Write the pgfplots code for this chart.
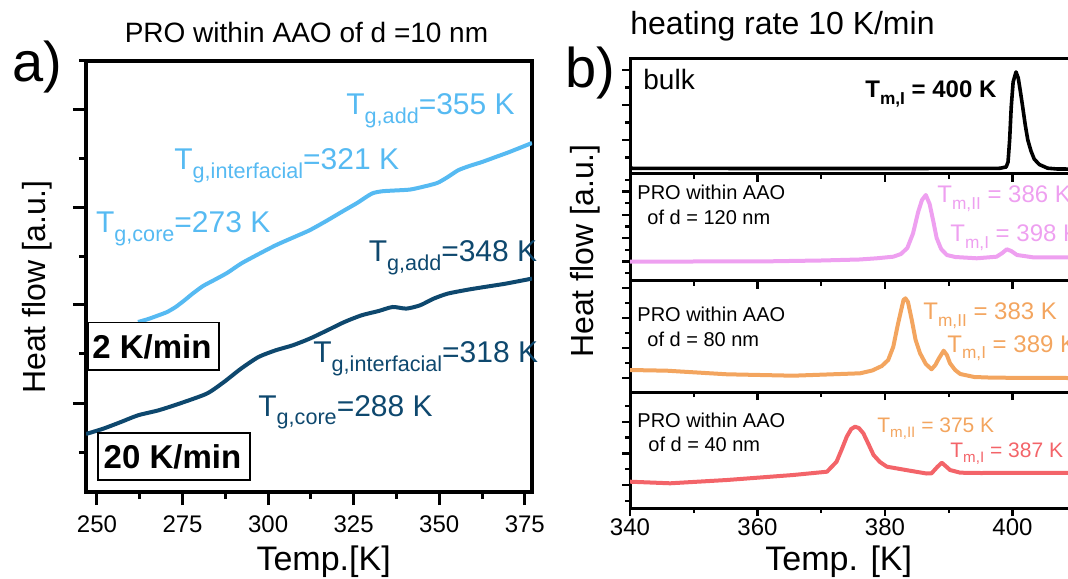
\documentclass[border=0pt]{standalone}
\usepackage{pgfplots}
\pgfplotsset{compat=1.18}
\usepackage{graphicx}
\usepackage{fontspec}
\setmainfont{Liberation Sans}
\definecolor{lblue}{RGB}{86,186,242}
\definecolor{dblue}{RGB}{14,72,110}
\definecolor{pinkv}{RGB}{238,160,240}
\definecolor{orng}{RGB}{243,165,95}
\definecolor{redc}{RGB}{243,100,105}
\newcommand{\fs}[1]{\fontsize{#1}{#1}\selectfont}
\newcommand{\sub}[1]{\raisebox{-0.27em}{\scalebox{0.72}{#1}}}
\pgfplotsset{
  panelb/.style={scale only axis, width=255pt, xmin=340, xmax=420, ymin=0,
    axis line style={line width=1.5pt}, tick align=outside,
    xtick pos=bottom, ytick pos=left,
    xtick={340,360,380,400}, minor xtick={350,370,390,410},
    major tick length=4pt, minor tick length=2.5pt,
    tick style={line width=1.2pt, black},
    yticklabels={}, xticklabels={},
    /pgf/number format/assume math mode=true,
    xticklabel style={font=\fs{12}, inner sep=1pt}},
}
\begin{document}
\begin{tikzpicture}
\useasboundingbox (0,0) rectangle (534pt,289pt);
\clip (0,0) rectangle (534pt,289pt);
% ---------- panel a ----------
\begin{axis}[at={(43pt,43pt)}, anchor=south west, scale only axis,
  width=223pt, height=215.5pt, xmin=246.8, xmax=377.1, ymin=0, ymax=431,
  xtick={250,275,300,325,350,375}, minor x tick num=1,
  ytick={89,187,284,382}, minor ytick={40,138,235,333,431}, yticklabels={},
  tick align=outside, xtick pos=bottom, ytick pos=left,
  major tick length=6.5pt, minor tick length=3.5pt,
  tick style={line width=1.5pt, black}, axis line style={line width=2pt},
  /pgf/number format/assume math mode=true,
  xticklabel style={font=\fs{12}, inner sep=1pt, yshift=-4pt}]
\addplot[lblue, line width=2pt, smooth, tension=0.4] coordinates {
(262.0,170) (265.0,173) (268.0,176.7) (270.5,180) (273.0,185) (275.5,191.5)
(278.0,198.5) (281.0,206) (284.1,211.7) (288,219) (292.1,228.4) (297,237.5)
(302.2,246.7) (307,254) (312.1,261.7) (317,271) (322.3,281.7) (326,289)
(330.3,298.4) (333.3,300.7) (337,301.5) (341.4,302.4) (345,305) (349.4,309)
(352.5,315) (355.5,321.7) (358.8,326) (362.5,330) (366.5,335) (370.5,340)
(377.1,349)};
\addplot[dblue, line width=2pt, smooth, tension=0.4] coordinates {
(246.8,58) (251.9,63.4) (257,70) (262.0,76.7) (268.0,81.7) (274.1,88.4)
(282.1,98.4) (287.1,110) (292.1,123.4) (297.2,135) (302.2,141.7) (307.2,146.7)
(312.2,153.4) (317.3,161.7) (322.3,170) (327.3,176.7) (332.3,181) (336.4,185)
(340.4,183.4) (344.4,186.7) (348.4,193.4) (352.5,198.4) (358.5,202.4)
(364.5,205.7) (369.5,208.4) (377.1,213.4)};
\end{axis}
% ---------- panel b ----------
\begin{axis}[panelb, at={(315pt,202pt)}, anchor=south west, height=57.75pt, ymax=115.5,
  ytick={34,69,104}, minor ytick={16.5,51.5,86.5}]
\addplot[black, line width=1.8pt, line join=round] coordinates {
(340,5.7) (360,5.5) (380,5.5) (395,5.6) (398.0,5.7) (399.0,7) (399.3,12)
(399.55,34) (399.8,67) (400.1,92) (400.55,102) (400.9,96) (401.2,84)
(401.6,67) (402.0,49) (402.4,34) (402.9,23) (403.4,15) (404.2,9.5)
(405.5,5.8) (407,5) (420,4.5)};
\end{axis}
\begin{axis}[panelb, at={(315pt,148.5pt)}, anchor=south west, height=53.5pt, ymax=107,
  ytick={19.3,42.7,66,89.3}, minor ytick={7.7,31,54.3,77.7,101}]
\addplot[pinkv, line width=2pt, line join=round] coordinates {
(340,19.3) (350,19.5) (360,19.5) (370,20.5) (376,21.5) (378.7,22.7)
(381.3,24.3) (382.5,27) (383.5,33) (384.4,47.7) (385.2,69) (385.8,81)
(386.4,86) (387.0,77) (387.6,59) (388.1,43) (388.8,32) (389.7,26) (391,24)
(394.4,22.7) (397.5,24.3) (398.4,28) (399.1,31.7) (399.8,30) (400.7,26)
(403.2,23.7) (420,23.7)};
\end{axis}
\begin{axis}[panelb, at={(315pt,93pt)}, anchor=south west, height=55.5pt, ymax=111,
  ytick={14,44,74,104}, minor ytick={29,59,89}]
\addplot[orng, line width=2pt, line join=round] coordinates {
(340,22) (345.8,21.3) (355.2,17.7) (365.6,16.3) (376.1,18.7) (378,21.5)
(379.5,26) (380.5,32) (381.3,45.3) (382.0,67) (382.5,81) (382.9,92)
(383.2,93.7) (383.6,90) (384.2,72) (384.8,52) (385.5,38.7) (386.4,28)
(387.3,22.7) (387.9,27) (388.4,33) (389.2,41.3) (389.7,37) (390.2,28.7)
(391.0,22) (391.8,18) (394,15) (397,14.3) (420,13.7)};
\end{axis}
\begin{axis}[panelb, at={(315pt,35pt)}, anchor=south west, height=58pt, ymax=116,
  ytick={23,54.7,86.3}, minor ytick={7,38.8,70.5,102},
  xticklabels={340,360,380,400}]
\addplot[redc, line width=2pt, line join=round] coordinates {
(340,26.3) (346.3,24.7) (355.2,28) (365.6,33) (370.9,36.3) (372.4,46.3)
(373.3,60) (374,71.3) (374.7,79) (375.3,81.3) (375.9,80) (376.6,74.7)
(377.4,64) (378.2,53) (379.2,46) (380.3,41.3) (383.9,37.3) (386.5,34.5)
(387.3,34.7) (388.2,41) (388.9,45.3) (389.5,42) (390.2,38) (391.8,35.3)
(395,35) (420,35.3)};
\end{axis}
% ---------- text (pixel coordinates) ----------
\begin{scope}[shift={(0pt,289pt)}, x=0.5pt, y=-0.5pt]
\draw[line width=0.8pt, fill=white] (87.8,322.7) rectangle (218.7,370);
\node[anchor=base west, inner sep=0, font=\bfseries\fs{16.5}] at (92,358.3) {2 K/min};
\draw[line width=0.8pt, fill=white] (98,432.7) rectangle (249.7,480);
\node[anchor=base west, inner sep=0, font=\bfseries\fs{16.5}] at (103.3,468) {20 K/min};
\node[anchor=base west, inner sep=0, font=\fs{28}] at (12,82) {a)};
\node[anchor=base west, inner sep=0, font=\fs{28}] at (565,88) {b)};
\node[anchor=base, inner sep=0, font=\fs{14}] at (306.5,43) {PRO within AAO of d =10 nm};
\node[anchor=base west, inner sep=0, font=\fs{16}] at (630,35) {heating rate 10 K/min};
\node[anchor=base, inner sep=0, font=\fs{17}] at (323.6,570) {Temp.[K]};
\node[anchor=base, inner sep=0, font=\fs{17}] at (838.7,570) {Temp. [K]};
\node[rotate=90, anchor=base, inner sep=0, font=\fs{16}] at (45,287) {Heat flow [a.u.]};
\node[rotate=90, anchor=base, inner sep=0, font=\fs{16}] at (593,251) {Heat flow [a.u.]};
% panel a labels
\node[anchor=base west, inner sep=0, font=\fs{15}, text=lblue] at (346,115) {T\sub{g,add}=355 K};
\node[anchor=base west, inner sep=0, font=\fs{15}, text=lblue] at (174,170) {T\sub{g,interfacial}=321 K};
\node[anchor=base west, inner sep=0, font=\fs{15}, text=lblue] at (95.7,233) {T\sub{g,core}=273 K};
\node[anchor=base west, inner sep=0, font=\fs{15}, text=dblue] at (368.5,262) {T\sub{g,add}=348 K};
\node[anchor=base west, inner sep=0, font=\fs{15}, text=dblue] at (313,363) {T\sub{g,interfacial}=318 K};
\node[anchor=base west, inner sep=0, font=\fs{15}, text=dblue] at (258,416) {T\sub{g,core}=288 K};
% panel b labels
\node[anchor=base west, inner sep=0, font=\fs{14}] at (643,90) {bulk};
\node[anchor=base west, inner sep=0, font=\bfseries\fs{12}] at (865,98) {T\sub{m,I} = 400 K};
\node[anchor=base west, inner sep=0, font=\fs{10}] at (637,200) {PRO within AAO};
\node[anchor=base west, inner sep=0, font=\fs{10}] at (647,225) {of d = 120 nm};
\node[anchor=base west, inner sep=0, font=\fs{12}, text=pinkv] at (937,203) {T\sub{m,II} = 386 K};
\node[anchor=base west, inner sep=0, font=\fs{12}, text=pinkv] at (950,242) {T\sub{m,I} = 398 K};
\node[anchor=base west, inner sep=0, font=\fs{10}] at (637,322) {PRO within AAO};
\node[anchor=base west, inner sep=0, font=\fs{10}] at (647,346.7) {of d = 80 nm};
\node[anchor=base west, inner sep=0, font=\fs{12}, text=orng] at (923,320) {T\sub{m,II} = 383 K};
\node[anchor=base west, inner sep=0, font=\fs{12}, text=orng] at (947,352) {T\sub{m,I} = 389 K};
\node[anchor=base west, inner sep=0, font=\fs{10}] at (637,427) {PRO within AAO};
\node[anchor=base west, inner sep=0, font=\fs{10}] at (648,451) {of d = 40 nm};
\node[anchor=base west, inner sep=0, font=\fs{10.5}, text=orng] at (877,432) {T\sub{m,II} = 375 K};
\node[anchor=base west, inner sep=0, font=\fs{10.5}, text=redc] at (950,457) {T\sub{m,I} = 387 K};
\end{scope}
\end{tikzpicture}
\end{document}
